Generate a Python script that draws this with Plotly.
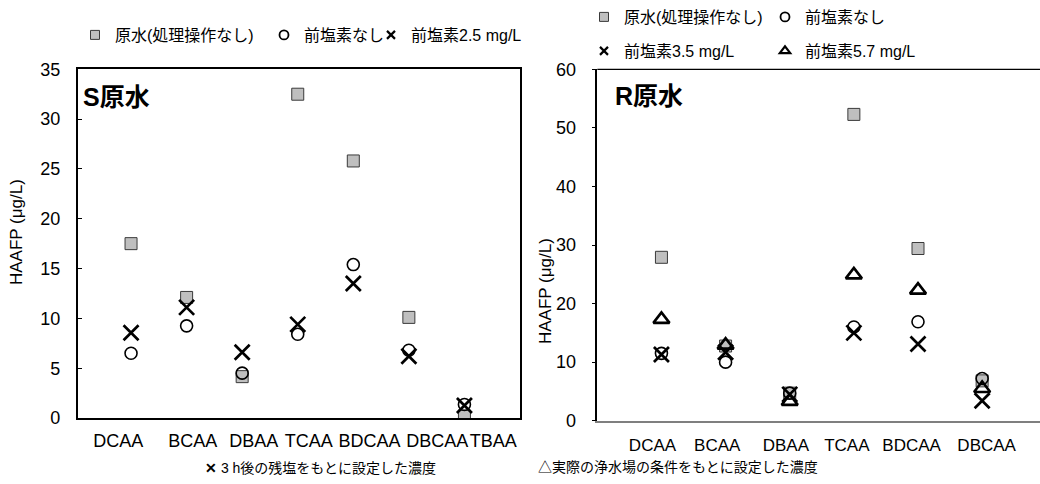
import plotly.graph_objects as go

# ---- S source water (left panel) ----
s_categories = ["DCAA", "BCAA", "DBAA", "TCAA", "BDCAA", "DBCAA", "TBAA"]
s_raw = [17.5, 12.1, 4.15, 32.5, 25.8, 10.1, 0.2]
s_no_prechlor = [6.5, 9.25, 4.5, 8.4, 15.4, 6.8, 1.35]
s_prechlor_25 = [8.55, 11.1, 6.6, 9.4, 13.5, 6.2, 1.25]

# ---- R source water (right panel) ----
r_categories = ["DCAA", "BCAA", "DBAA", "TCAA", "BDCAA", "DBCAA"]
r_raw = [27.9, 12.75, 4.7, 52.3, 29.4, 6.8]
r_no_prechlor = [11.5, 10.0, 4.7, 16.0, 16.9, 7.2]
r_prechlor_35 = [11.3, 11.7, 4.5, 15.0, 13.1, 3.4]
r_prechlor_57 = [17.3, 12.9, 3.3, 24.9, 22.3, 5.5]

# legend names
name_raw = "原水(処理操作なし)"
name_none = "前塩素なし"
name_s_dose = "前塩素2.5 mg/L"
name_r_dose1 = "前塩素3.5 mg/L"
name_r_dose2 = "前塩素5.7 mg/L"

# category-label positions along each x axis (label text boxes sit slightly off the points)
s_label_pos = [0.77, 2.11, 3.21, 4.20, 5.29, 6.51, 7.52]
r_label_pos = [0.86, 1.87, 2.94, 3.89, 4.90, 6.07]

FONT = "Liberation Sans, Arial, Noto Sans CJK JP, sans-serif"
W, H = 1040, 484

sty_raw = dict(symbol="square", size=12, color="#BFBFBF", line=dict(color="#3A3A3A", width=1))
sty_none = dict(symbol="circle-open", size=12, color="black", line=dict(color="black", width=1.6))
sty_dose = dict(symbol="x-thin-open", size=15, color="black", line=dict(color="black", width=2.7))
sty_tri = dict(symbol="triangle-up-open", size=14, color="black", line=dict(color="black", width=2.6))

leg_raw = dict(symbol="square", size=9, color="#BFBFBF", line=dict(color="#3A3A3A", width=1))
leg_none = dict(symbol="circle-open", size=9, color="black", line=dict(color="black", width=1.8))
leg_dose = dict(symbol="x-thin-open", size=8, color="black", line=dict(color="black", width=2.2))
leg_tri = dict(symbol="triangle-up-open", size=9, color="black", line=dict(color="black", width=2.2))

fig = go.Figure()

s_x = list(range(1, len(s_categories) + 1))
r_x = list(range(1, len(r_categories) + 1))

# left panel data
for ys, sty in [(s_raw, sty_raw), (s_no_prechlor, sty_none), (s_prechlor_25, sty_dose)]:
    fig.add_trace(go.Scatter(x=s_x, y=ys, mode="markers", marker=sty,
                             showlegend=False, xaxis="x", yaxis="y", hoverinfo="y"))

# right panel data
for ys, sty in [(r_raw, sty_raw), (r_no_prechlor, sty_none),
                (r_prechlor_35, sty_dose), (r_prechlor_57, sty_tri)]:
    fig.add_trace(go.Scatter(x=r_x, y=ys, mode="markers", marker=sty,
                             showlegend=False, xaxis="x2", yaxis="y2", hoverinfo="y"))


def px_x(p):
    return p / W


def px_y(p):
    return 1 - p / H


# one single-entry legend per key item, so every entry can sit at its own spot
legend_items = [
    # (name, marker, left edge px, top px)
    (name_raw, leg_raw, 75, 18),
    (name_none, leg_none, 264, 18),
    (name_s_dose, leg_dose, 371, 18),
    (name_raw, leg_raw, 584, 0),
    (name_none, leg_none, 765, 0),
    (name_r_dose1, leg_dose, 584, 34),
    (name_r_dose2, leg_tri, 765, 34),
]

legend_layout = {}
for i, (name, marker, lx, ty) in enumerate(legend_items):
    key = "legend" if i == 0 else f"legend{i + 1}"
    fig.add_trace(go.Scatter(x=[None], y=[None], mode="markers", marker=marker,
                             name=name, legend=key, xaxis="x", yaxis="y"))
    legend_layout[key] = dict(
        x=px_x(lx), y=px_y(ty), xanchor="left", yanchor="top", orientation="h",
        bgcolor="rgba(0,0,0,0)", font=dict(family=FONT, size=16, color="black"),
        itemclick=False, itemdoubleclick=False,
    )

fig.update_layout(
    width=W, height=H,
    margin=dict(l=0, r=0, t=0, b=0, autoexpand=False),
    paper_bgcolor="white", plot_bgcolor="white",
    font=dict(family=FONT, color="black"),
    xaxis=dict(domain=[px_x(77.7), px_x(520)], range=[0.04, 8.0], automargin=False,
               tickmode="array", tickvals=s_label_pos, ticktext=s_categories, tickangle=0,
               ticks="", showgrid=False, zeroline=False,
               showline=True, linecolor="black", linewidth=1.5, mirror=True,
               tickfont=dict(size=18), ticklabelstandoff=6),
    yaxis=dict(domain=[px_y(418), px_y(69.3)], range=[0, 35], dtick=5, automargin=False,
               ticks="inside", ticklen=5, tickcolor="black", showgrid=False, zeroline=False,
               showline=True, linecolor="black", linewidth=1.5, mirror=True,
               tickfont=dict(size=18), ticklabelstandoff=12),
    xaxis2=dict(domain=[px_x(597.3), 1.0], range=[0, 6.902], anchor="y2", automargin=False,
                tickmode="array", tickvals=r_label_pos, ticktext=r_categories, tickangle=0,
                ticks="", showgrid=False, zeroline=False,
                showline=True, linecolor="#7F7F7F", linewidth=2.2,
                tickfont=dict(size=17), ticklabelstandoff=8),
    yaxis2=dict(domain=[px_y(420.7), px_y(69.3)], range=[0, 60], dtick=10, anchor="x2",
                automargin=False,
                ticks="outside", ticklen=4, tickcolor="black", showgrid=False, zeroline=False,
                showline=True, linecolor="black", linewidth=1.5,
                tickfont=dict(size=18), ticklabelstandoff=12),
    **legend_layout,
)

# top border of the right panel
fig.add_shape(type="line", xref="x2 domain", yref="y2 domain", x0=0, x1=1, y0=1, y1=1,
              line=dict(color="black", width=1.2))

# panel labels
fig.add_annotation(text="<b>S原水</b>", xref="paper", yref="paper", x=px_x(81), y=px_y(97),
                   xanchor="left", yanchor="middle", showarrow=False, font=dict(size=25))
fig.add_annotation(text="<b>R原水</b>", xref="paper", yref="paper", x=px_x(613), y=px_y(96),
                   xanchor="left", yanchor="middle", showarrow=False, font=dict(size=25))

# y axis titles
for xc, yc in [(17, 232), (545, 291)]:
    fig.add_annotation(text="HAAFP (μg/L)", xref="paper", yref="paper", x=px_x(xc), y=px_y(yc),
                       xanchor="center", yanchor="middle", textangle=-90, showarrow=False,
                       font=dict(size=17))

# footnotes
fig.add_annotation(text="<b>✕</b> 3 h後の残塩をもとに設定した濃度", xref="paper", yref="paper",
                   x=px_x(203), y=px_y(468), xanchor="left", yanchor="middle",
                   showarrow=False, font=dict(size=14))
fig.add_annotation(text="△実際の浄水場の条件をもとに設定した濃度", xref="paper", yref="paper",
                   x=px_x(536), y=px_y(467), xanchor="left", yanchor="middle",
                   showarrow=False, font=dict(size=14))

fig.write_html("out.html")
